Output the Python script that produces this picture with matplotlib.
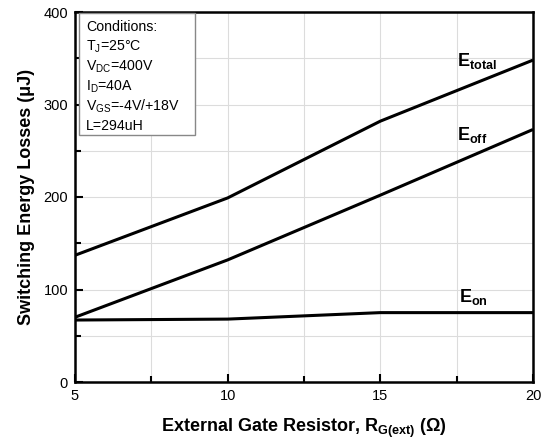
import numpy as np
import matplotlib
matplotlib.use("Agg")
import matplotlib.pyplot as plt
from matplotlib.ticker import MultipleLocator
from matplotlib.patches import Rectangle

plt.rcParams["font.family"] = ["Liberation Sans", "DejaVu Sans"]
plt.rcParams["mathtext.fontset"] = "custom"
plt.rcParams["mathtext.rm"] = "Liberation Sans"
plt.rcParams["mathtext.it"] = "Liberation Sans"
plt.rcParams["mathtext.bf"] = "Liberation Sans:bold"

rg = [5, 10, 15, 20]
e_total = [137, 199, 282, 348]
e_off = [70, 132, 202, 273]
e_on = [67, 68, 75, 75]

conditions = ["Conditions:", "T$_J$=25°C", "V$_{DC}$=400V", "I$_D$=40A",
              "V$_{GS}$=-4V/+18V", "L=294uH"]

W, H = 548, 442
fig = plt.figure(figsize=(W / 100, H / 100), dpi=100)
ax = fig.add_axes([75 / W, 1 - 382 / H, 458 / W, 370 / H])

for e in (e_total, e_off, e_on):
    ax.plot(rg, e, color="black", lw=2.2, solid_capstyle="butt")

ax.set_xlim(5, 20)
ax.set_ylim(0, 400)
ax.xaxis.set_major_locator(MultipleLocator(5))
ax.xaxis.set_minor_locator(MultipleLocator(2.5))
ax.yaxis.set_major_locator(MultipleLocator(100))
ax.yaxis.set_minor_locator(MultipleLocator(50))
ax.grid(which="both", color="#dcdcdc", lw=0.8)
ax.set_axisbelow(True)
ax.tick_params(which="both", direction="in", labelsize=10.5, width=1.5, pad=5)
ax.tick_params(which="major", length=6)
ax.tick_params(which="minor", length=4)
for s in ax.spines.values():
    s.set_linewidth(1.8)

ax.set_xlabel(r"External Gate Resistor, R$_{\mathbf{G(ext)}}$ ($\mathbf{\Omega}$)",
              fontsize=13, fontweight="bold", labelpad=10)
ax.set_ylabel("Switching Energy Losses (μJ)", fontsize=13, fontweight="bold", labelpad=6)

# curve labels
lbl = dict(fontsize=13, fontweight="bold", ha="left", va="baseline")
ax.text(17.51, 341.6, r"E$_{\mathbf{total}}$", **lbl)
ax.text(17.51, 261.6, r"E$_{\mathbf{off}}$", **lbl)
ax.text(17.58, 86.5, r"E$_{\mathbf{on}}$", **lbl)

# conditions box
ax.add_patch(Rectangle((5.13, 267), 3.8, 132, fc="white", ec="#888888", lw=1, zorder=3))
ys = [379.5, 358.4, 336.8, 315.1, 293.5, 271.9]
for t, y in zip(conditions, ys):
    ax.text(5.36, y, t, fontsize=10.2, va="baseline", ha="left", zorder=4)

fig.savefig("out.png", dpi=100)
